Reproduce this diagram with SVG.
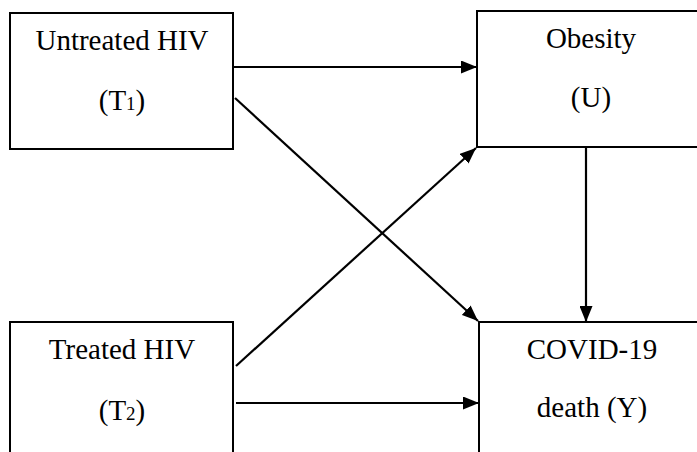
<svg xmlns="http://www.w3.org/2000/svg" width="697" height="452" viewBox="0 0 697 452">
<style>
.box{fill:#fff;stroke:#000;stroke-width:2}
.lbl{font-family:"Liberation Serif","Times New Roman",serif;font-size:29px;fill:#000;text-anchor:middle}
.sub{font-size:19px}
.edge{stroke:#000;stroke-width:2.2;fill:none;marker-end:url(#ah)}
</style>
<defs>
<marker id="ah" markerUnits="userSpaceOnUse" markerWidth="17" markerHeight="13" refX="16" refY="6.5" orient="auto">
<path d="M0,0 L16,6.5 L0,13 z" fill="#000"/>
</marker>
</defs>
<rect width="697" height="452" fill="#fff"/>
<g id="node-t1">
<rect class="box" x="10" y="13" width="223" height="136"/>
<text class="lbl" x="122" y="50">Untreated HIV</text>
<text class="lbl" x="122" y="110">(T<tspan class="sub">1</tspan>)</text>
</g>
<g id="node-u">
<rect class="box" x="477" y="11" width="230" height="136"/>
<text class="lbl" x="591" y="48">Obesity</text>
<text class="lbl" x="591" y="107">(U)</text>
</g>
<g id="node-t2">
<rect class="box" x="10" y="322" width="223" height="140"/>
<text class="lbl" x="122" y="359">Treated HIV</text>
<text class="lbl" x="122" y="420">(T<tspan class="sub">2</tspan>)</text>
</g>
<g id="node-y">
<rect class="box" x="479" y="322" width="228" height="140"/>
<text class="lbl" x="592" y="359">COVID-19</text>
<text class="lbl" x="592" y="417">death (Y)</text>
</g>
<g id="connectors">
<line class="edge" x1="233" y1="67" x2="477" y2="67"/>
<line class="edge" x1="235" y1="98" x2="478" y2="321"/>
<line class="edge" x1="236" y1="366" x2="476" y2="148"/>
<line class="edge" x1="236" y1="403" x2="479" y2="403"/>
<line class="edge" x1="586" y1="147" x2="586" y2="322"/>
</g>
</svg>
